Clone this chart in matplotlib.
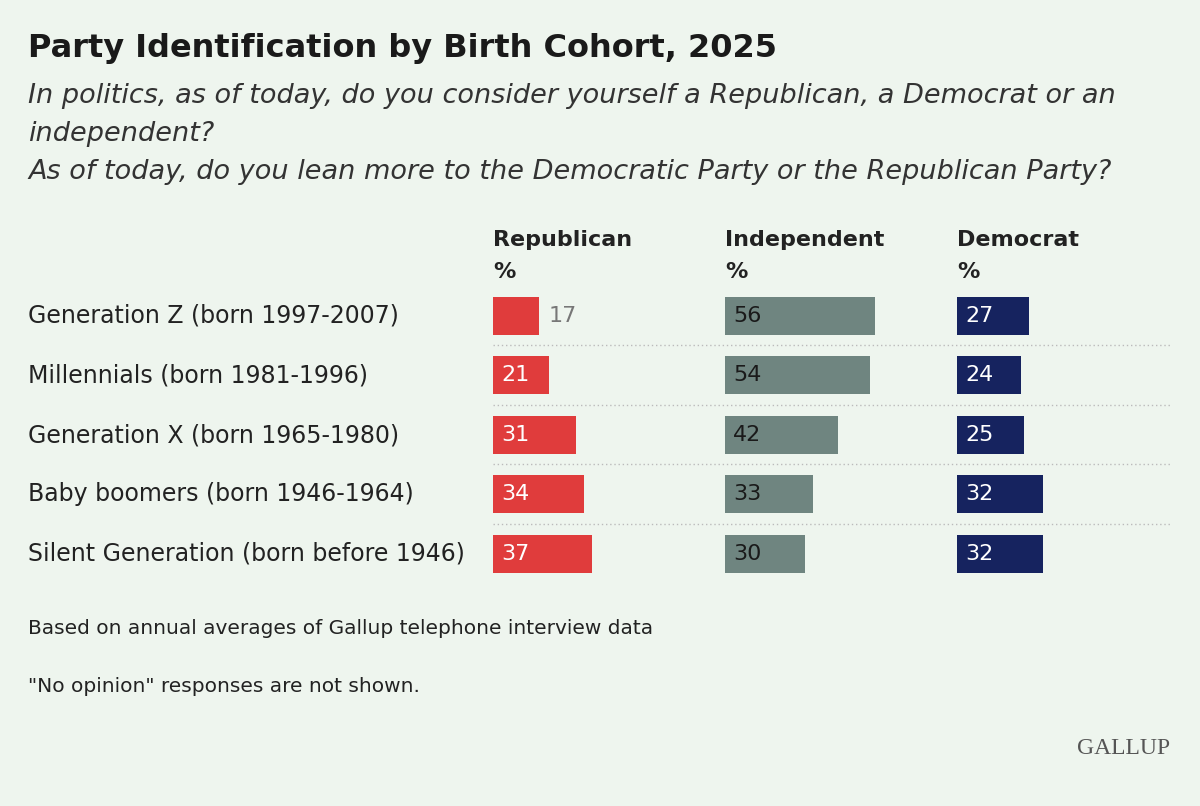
import matplotlib
matplotlib.use('Agg')
import matplotlib.pyplot as plt

cohorts = ['Generation Z (born 1997-2007)', 'Millennials (born 1981-1996)',
           'Generation X (born 1965-1980)', 'Baby boomers (born 1946-1964)',
           'Silent Generation (born before 1946)']
republican = [17, 21, 31, 34, 37]
independent = [56, 54, 42, 33, 30]
democrat = [27, 24, 25, 32, 32]

BG = '#eef5ee'
fig = plt.figure(figsize=(12, 8.06), dpi=100, facecolor=BG)
ax = fig.add_axes([0, 0, 1, 1])
ax.set_xlim(0, 1200)
ax.set_ylim(806, 0)
ax.axis('off')

fig.text(28/1200, 1 - 48/806, 'Party Identification by Birth Cohort, 2025',
         fontsize=23, fontweight='bold', color='#1a1a1a', va='center')
sub_lines = ['In politics, as of today, do you consider yourself a Republican, a Democrat or an',
             'independent?',
             'As of today, do you lean more to the Democratic Party or the Republican Party?']
for y, line in zip([96, 134, 172], sub_lines):
    ax.text(28, y, line, fontsize=19.5, fontstyle='italic', color='#333333', va='center')

scale = 2.68
rows_y = [316, 375, 435, 494, 554]
cols = [(493, 'Republican', republican, '#e03c3c', 'white'),
        (725, 'Independent', independent, '#6f8580', '#1a1a1a'),
        (957, 'Democrat', democrat, '#16235f', 'white')]

for x0, name, vals, color, tc in cols:
    ax.text(x0, 240, name, fontsize=16, fontweight='bold', color='#222222', va='center')
    ax.text(x0, 272, '%', fontsize=16, fontweight='bold', color='#222222', va='center')
    ax.barh(rows_y, [v * scale for v in vals], left=x0, height=38, color=color)
    for y, v in zip(rows_y, vals):
        if v * scale < 50:
            ax.text(x0 + v * scale + 10, y, str(v), fontsize=16, color='#777777', va='center')
        else:
            ax.text(x0 + 8, y, str(v), fontsize=16, color=tc, va='center')

for y, lab in zip(rows_y, cohorts):
    ax.text(28, y, lab, fontsize=17, color='#222222', va='center')

for y in [345, 405, 464, 524]:
    ax.plot([493, 1170], [y, y], color='#bbbbbb', lw=1, ls=(0, (1, 2)))

ax.text(28, 629, 'Based on annual averages of Gallup telephone interview data',
        fontsize=14.5, color='#222222', va='center')
ax.text(28, 687, '"No opinion" responses are not shown.', fontsize=14.5,
        color='#222222', va='center')
ax.text(1170, 748, 'GALLUP', fontsize=17, family='Liberation Serif', color='#555555',
        va='center', ha='right')

fig.savefig('out.png', dpi=100, facecolor=BG)
